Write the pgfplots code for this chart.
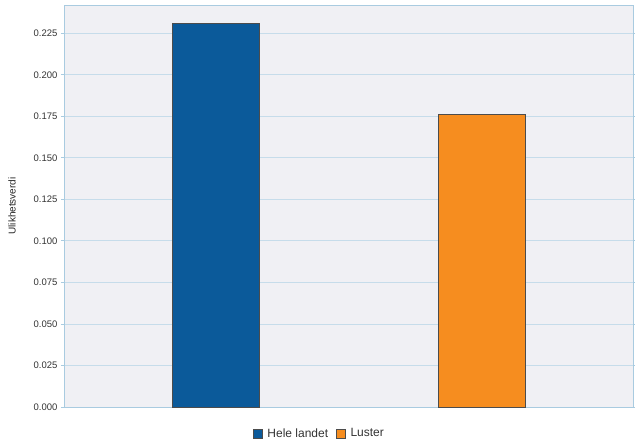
\documentclass[border=0pt]{standalone}
\usepackage{pgfplots}
\pgfplotsset{compat=1.18}
\usepackage{fontspec}
\setmainfont{Liberation Sans}
\definecolor{barblue}{HTML}{0B5A9A}
\definecolor{barorange}{HTML}{F68D1F}
\definecolor{plotbg}{HTML}{F0F0F4}
\definecolor{gridblue}{HTML}{C6DCEA}
\definecolor{axisblue}{HTML}{A9CBE0}
\begin{document}
\begin{tikzpicture}
\begin{axis}[
    scale only axis,
    width=569bp, height=402bp,
    ybar, bar width=87bp, bar shift=0pt,
    xmin=-0.57, xmax=1.57,
    ymin=0, ymax=0.242,
    xtick=\empty,
    ytick={0,0.025,...,0.225},
    yticklabel style={/pgf/number format/.cd, fixed, fixed zerofill, precision=3, assume math mode=true},
    tick label style={font=\fontsize{9.5bp}{11bp}\selectfont, color=black!80},
    ylabel={Ulikhetsverdi},
    every axis y label/.style={at={(rel axis cs:0,0.5)}, xshift=-52bp, rotate=90, anchor=center,
        font=\fontsize{10bp}{12bp}\selectfont, color=black!85},
    ymajorgrids=true,
    grid style={gridblue, line width=0.8pt},
    axis background/.style={fill=plotbg},
    axis line style={axisblue, line width=0.8pt},
    ytick style={axisblue, line width=0.8pt},
    tick align=outside,
    major tick length=3bp,
    legend style={at={(0.449,-0.066)}, anchor=center, draw=none, fill=none,
        font=\fontsize{12bp}{13bp}\selectfont, legend columns=2, text=black!80,
        /tikz/every odd column/.append style={column sep=3bp},
        /tikz/every even column/.append style={column sep=6bp}},
    legend image code/.code={\draw[#1, draw=black!70] (0bp,-4.5bp) rectangle (9bp,4.5bp);},
    clip=false,
]
\addplot[fill=barblue, draw=black!70] coordinates {(0,0.231)};
\addplot[fill=barorange, draw=black!70] coordinates {(1,0.1763)};
\legend{Hele landet, Luster}
\end{axis}
\pgfresetboundingbox
\path (0,0) ++(-64bp,-35bp) rectangle ++(635bp,442bp);
\end{tikzpicture}
\end{document}
